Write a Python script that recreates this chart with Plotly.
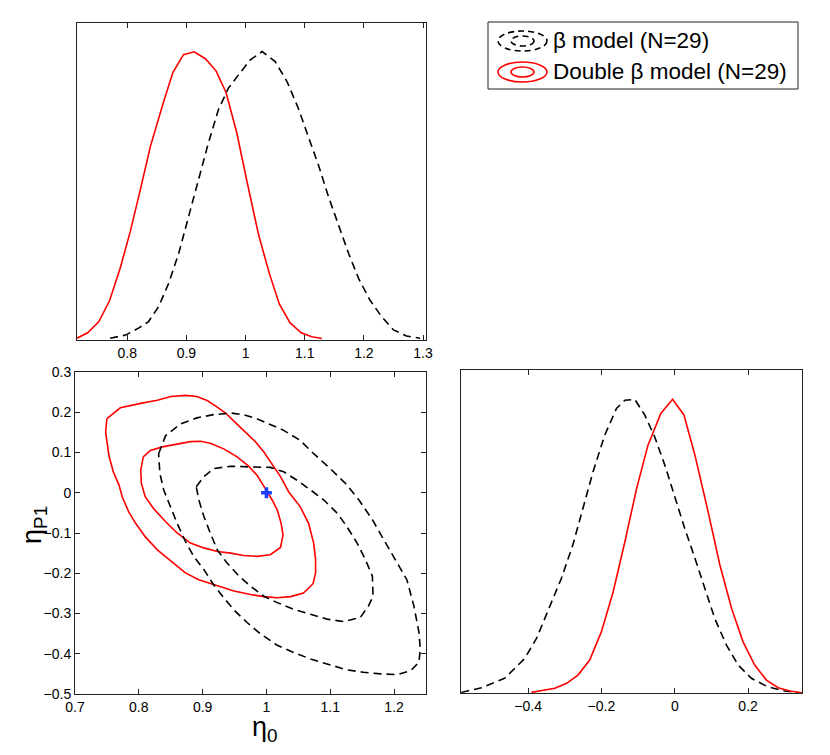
import plotly.graph_objects as go

# ---------------- data ----------------
# Marginal of eta_0 (top panel), normalised density
eta0_double_x = [0.715, 0.733, 0.752, 0.770, 0.788, 0.805, 0.822, 0.839, 0.859, 0.877, 0.895, 0.913,
                 0.932, 0.950, 0.967, 0.985, 1.003, 1.022, 1.040, 1.057, 1.075, 1.094, 1.112, 1.129]
eta0_double_y = [0.006, 0.025, 0.064, 0.136, 0.249, 0.376, 0.521, 0.671, 0.810, 0.928, 0.990, 1.000,
                 0.976, 0.934, 0.859, 0.720, 0.544, 0.365, 0.232, 0.125, 0.060, 0.025, 0.011, 0.005]

eta0_beta_x = [0.771, 0.797, 0.819, 0.836, 0.853, 0.870, 0.887, 0.904, 0.920, 0.937, 0.954, 0.971,
               0.988, 1.008, 1.028, 1.050, 1.070, 1.089, 1.106, 1.123, 1.140, 1.157, 1.174, 1.191,
               1.210, 1.230, 1.250, 1.272, 1.295]
eta0_beta_y = [0.006, 0.017, 0.041, 0.064, 0.116, 0.197, 0.301, 0.428, 0.556, 0.683, 0.799, 0.874,
               0.920, 0.972, 1.001, 0.966, 0.897, 0.805, 0.706, 0.608, 0.498, 0.399, 0.301, 0.214,
               0.139, 0.081, 0.035, 0.014, 0.006]

# Marginal of eta_P1 (bottom-right panel)
etap_beta_x = [-0.582, -0.527, -0.464, -0.409, -0.377, -0.346, -0.309, -0.278, -0.250, -0.223, -0.191,
               -0.159, -0.136, -0.109, -0.082, -0.055, -0.027, 0.000, 0.027, 0.055, 0.082, 0.109,
               0.141, 0.173, 0.209, 0.254, 0.300, 0.346]
etap_beta_y = [0.002, 0.018, 0.050, 0.118, 0.186, 0.277, 0.391, 0.504, 0.629, 0.753, 0.878,
               0.969, 0.997, 1.000, 0.947, 0.873, 0.776, 0.668, 0.561, 0.459, 0.356, 0.254,
               0.163, 0.095, 0.050, 0.021, 0.007, 0.000]

etap_double_x = [-0.391, -0.327, -0.295, -0.264, -0.232, -0.200, -0.168, -0.136, -0.104, -0.073, -0.038,
                 -0.006, 0.025, 0.055, 0.091, 0.123, 0.155, 0.186, 0.218, 0.250, 0.282, 0.314, 0.346]
etap_double_y = [0.002, 0.016, 0.033, 0.061, 0.112, 0.209, 0.345, 0.515, 0.697, 0.844, 0.952,
                 1.000, 0.947, 0.810, 0.617, 0.436, 0.288, 0.175, 0.095, 0.044, 0.018, 0.007, 0.001]

# Joint credible contours (bottom-left panel)
double_outer_x = [0.750, 0.771, 0.803, 0.829, 0.850, 0.873, 0.891, 0.907, 0.920, 0.936, 0.951, 0.967,
                  0.983, 0.996, 1.009, 1.022, 1.035, 1.053, 1.066, 1.074, 1.077, 1.077, 1.073, 1.058,
                  1.038, 1.017, 0.996, 0.975, 0.949, 0.928, 0.912, 0.894, 0.873, 0.850, 0.829, 0.810,
                  0.795, 0.784, 0.774, 0.769, 0.760, 0.753, 0.748, 0.750]
double_outer_y = [0.184, 0.211, 0.222, 0.230, 0.239, 0.242, 0.239, 0.229, 0.216, 0.198, 0.175, 0.151,
                  0.126, 0.101, 0.072, 0.040, 0.002, -0.035, -0.076, -0.125, -0.166, -0.199, -0.226, -0.249,
                  -0.258, -0.261, -0.258, -0.253, -0.244, -0.234, -0.226, -0.216, -0.199, -0.170, -0.142, -0.109,
                  -0.076, -0.047, -0.010, 0.019, 0.052, 0.093, 0.151, 0.184]

double_inner_x = [0.807, 0.818, 0.837, 0.860, 0.881, 0.897, 0.912, 0.933, 0.954, 0.972, 0.985, 0.998,
                  1.009, 1.017, 1.023, 1.026, 1.022, 1.006, 0.985, 0.964, 0.944, 0.923, 0.902, 0.881,
                  0.860, 0.842, 0.823, 0.810, 0.804, 0.803, 0.807]
double_inner_y = [0.089, 0.105, 0.114, 0.120, 0.127, 0.128, 0.123, 0.109, 0.089, 0.066, 0.044, 0.011,
                  -0.018, -0.043, -0.076, -0.105, -0.136, -0.154, -0.158, -0.156, -0.150, -0.146, -0.137, -0.125,
                  -0.100, -0.072, -0.039, -0.010, 0.023, 0.056, 0.089]

beta_outer_x = [0.831, 0.842, 0.865, 0.891, 0.917, 0.944, 0.964, 0.985, 1.001, 1.027, 1.053, 1.074,
                1.100, 1.124, 1.145, 1.166, 1.184, 1.202, 1.220, 1.231, 1.239, 1.241, 1.239, 1.226,
                1.205, 1.179, 1.152, 1.126, 1.095, 1.069, 1.043, 1.017, 0.991, 0.970, 0.951, 0.933,
                0.917, 0.902, 0.886, 0.873, 0.860, 0.850, 0.839, 0.833, 0.831]
beta_outer_y = [0.097, 0.142, 0.171, 0.186, 0.194, 0.198, 0.194, 0.184, 0.173, 0.155, 0.130, 0.097,
                0.060, 0.023, -0.018, -0.067, -0.117, -0.166, -0.216, -0.281, -0.347, -0.388, -0.421, -0.442,
                -0.452, -0.450, -0.446, -0.440, -0.426, -0.413, -0.397, -0.379, -0.351, -0.323, -0.294, -0.261,
                -0.228, -0.191, -0.158, -0.121, -0.076, -0.035, 0.007, 0.048, 0.097]

beta_inner_x = [0.890, 0.902, 0.917, 0.944, 0.975, 1.006, 1.027, 1.048, 1.069, 1.090, 1.111, 1.126,
                1.142, 1.155, 1.166, 1.167, 1.160, 1.147, 1.121, 1.095, 1.069, 1.043, 1.017, 0.996,
                0.975, 0.957, 0.938, 0.923, 0.912, 0.902, 0.894, 0.890]
beta_inner_y = [0.015, 0.040, 0.060, 0.066, 0.064, 0.063, 0.052, 0.031, 0.007, -0.018, -0.051, -0.084,
                -0.125, -0.166, -0.207, -0.257, -0.281, -0.310, -0.320, -0.314, -0.302, -0.290, -0.273, -0.257,
                -0.232, -0.207, -0.174, -0.142, -0.100, -0.059, -0.018, 0.015]

true_point_x = [1.0]
true_point_y = [0.0]

# tick labels
top_xticks = [0.8, 0.9, 1.0, 1.1, 1.2, 1.3]
top_xticklabels = ["0.8", "0.9", "1", "1.1", "1.2", "1.3"]
joint_xticks = [0.7, 0.8, 0.9, 1.0, 1.1, 1.2]
joint_xticklabels = ["0.7", "0.8", "0.9", "1", "1.1", "1.2"]
joint_yticks = [0.3, 0.2, 0.1, 0.0, -0.1, -0.2, -0.3, -0.4, -0.5]
joint_yticklabels = ["0.3", "0.2", "0.1", "0", "\u22120.1", "\u22120.2", "\u22120.3", "\u22120.4", "\u22120.5"]
right_xticks = [-0.4, -0.2, 0.0, 0.2]
right_xticklabels = ["\u22120.4", "\u22120.2", "0", "0.2"]

legend_labels = ["\u03b2 model (N=29)", "Double \u03b2 model (N=29)"]

# ---------------- styles ----------------
OFF = 8                     # page body margin of the html page
W, H = 830 - OFF, 755 - OFF
FONT = "Liberation Sans, Arial, Helvetica, sans-serif"
BLACK_LINE = dict(color="black", width=1.6, dash="8px,5px")
RED_LINE = dict(color="#ff0000", width=1.6)

def px(x):
    return (x - OFF) / W

def py(y):
    return 1 - (y - OFF) / H

fig = go.Figure()

# top panel (x, y)
fig.add_trace(go.Scatter(x=eta0_double_x, y=eta0_double_y, mode="lines", line=RED_LINE,
                         xaxis="x", yaxis="y", showlegend=False))
fig.add_trace(go.Scatter(x=eta0_beta_x, y=eta0_beta_y, mode="lines", line=BLACK_LINE,
                         xaxis="x", yaxis="y", showlegend=False))

# joint panel (x2, y2)
for cx, cy, ln in [(double_outer_x, double_outer_y, RED_LINE),
                   (double_inner_x, double_inner_y, RED_LINE),
                   (beta_outer_x, beta_outer_y, BLACK_LINE),
                   (beta_inner_x, beta_inner_y, BLACK_LINE)]:
    fig.add_trace(go.Scatter(x=cx, y=cy, mode="lines", line=ln,
                             xaxis="x2", yaxis="y2", showlegend=False))
fig.add_trace(go.Scatter(x=true_point_x, y=true_point_y, mode="markers",
                         marker=dict(symbol="cross", size=9, color="#1f3fff",
                                     line=dict(width=0)),
                         xaxis="x2", yaxis="y2", showlegend=False))

# right panel (x3, y3)
fig.add_trace(go.Scatter(x=etap_beta_x, y=etap_beta_y, mode="lines", line=BLACK_LINE,
                         xaxis="x3", yaxis="y3", showlegend=False))
fig.add_trace(go.Scatter(x=etap_double_x, y=etap_double_y, mode="lines", line=RED_LINE,
                         xaxis="x3", yaxis="y3", showlegend=False))

axis_common = dict(showline=True, linecolor="#222", linewidth=1, mirror="allticks",
                   ticks="inside", ticklen=5, tickcolor="#222", tickwidth=1,
                   showgrid=False, zeroline=False, automargin=False,
                   tickfont=dict(family=FONT, size=14, color="black"))
axis_noticks = dict(showline=True, linecolor="#222", linewidth=1, mirror=True,
                    ticks="", showticklabels=False, showgrid=False, zeroline=False,
                    automargin=False)

fig.update_layout(
    template="none",
    width=W, height=H,
    margin=dict(l=0, r=0, t=0, b=0, pad=0),
    paper_bgcolor="white", plot_bgcolor="white",
    showlegend=False,
    xaxis=dict(domain=[px(77), px(426)], range=[0.715, 1.305], anchor="y",
               tickvals=top_xticks, ticktext=top_xticklabels, **axis_common),
    yaxis=dict(domain=[py(340), py(23)], range=[0, 1.10], anchor="x", **axis_noticks),
    xaxis2=dict(domain=[px(75), px(426)], range=[0.7, 1.25], anchor="y2",
                tickvals=joint_xticks, ticktext=joint_xticklabels, **axis_common),
    yaxis2=dict(domain=[py(694), py(372)], range=[-0.5, 0.3], anchor="x2",
                tickvals=joint_yticks, ticktext=joint_yticklabels, **axis_common),
    xaxis3=dict(domain=[px(461), px(802)], range=[-0.583, 0.347], anchor="y3",
                tickvals=right_xticks, ticktext=right_xticklabels, **axis_common),
    yaxis3=dict(domain=[py(693), py(370)], range=[0, 1.10], anchor="x3", **axis_noticks),
)

# axis labels
fig.add_annotation(text="\u03b7<sub>0</sub>", x=px(250), y=py(748), xref="paper", yref="paper",
                   showarrow=False, font=dict(family=FONT, size=27, color="black"))
fig.add_annotation(text="\u03b7<sub>P1</sub>", x=px(15), y=py(546), xref="paper", yref="paper",
                   showarrow=False, textangle=-90, font=dict(family=FONT, size=27, color="black"))

# legend box (drawn manually to reproduce ellipse icons)
fig.add_shape(type="rect", xref="paper", yref="paper", x0=px(488), x1=px(798), y0=py(89), y1=py(22),
              line=dict(color="#222", width=1), fillcolor="white", layer="above")
icon_rows = [(41, dict(color="black", width=1.6, dash="6px,4px")),
             (72, dict(color="#ff0000", width=1.6))]
for (cy, ln), label in zip(icon_rows, legend_labels):
    fig.add_shape(type="circle", xref="paper", yref="paper",
                  x0=px(498), x1=px(547), y0=py(cy + 10), y1=py(cy - 10), line=ln, layer="above")
    fig.add_shape(type="circle", xref="paper", yref="paper",
                  x0=px(511), x1=px(534), y0=py(cy + 5), y1=py(cy - 5), line=ln, layer="above")
    fig.add_annotation(text=label, x=px(551), y=py(cy), xref="paper", yref="paper",
                       xanchor="left", yanchor="middle", showarrow=False,
                       font=dict(family=FONT, size=22.5, color="black"))

fig.write_html("out.html")
